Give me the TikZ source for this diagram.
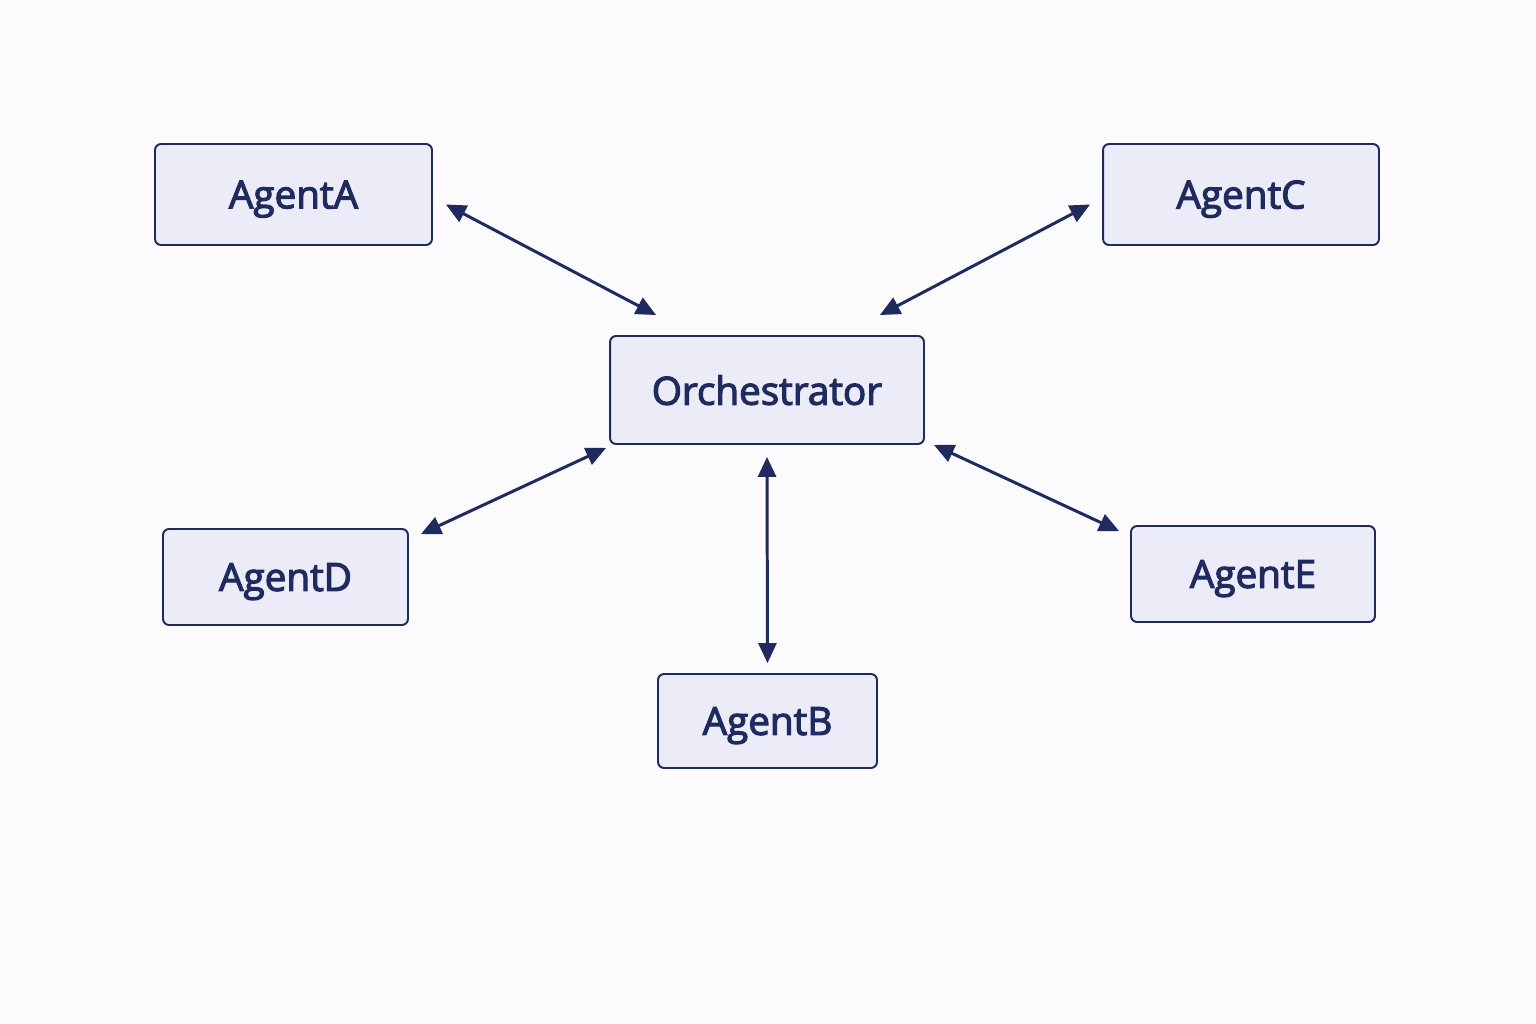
\documentclass[tikz,border=0pt]{standalone}
\usepackage{fontspec}
\setmainfont{Open Sans}[FakeBold=3]
\usetikzlibrary{arrows.meta}
\definecolor{navy}{HTML}{1F2A5E}
\definecolor{boxfill}{HTML}{ECECF8}
\definecolor{bgcol}{HTML}{FBFAFD}

\begin{document}
\begin{tikzpicture}[x=0.02cm,y=-0.02cm,
    agent/.style={draw=navy, line width=1.1pt, fill=boxfill, rounded corners=0.12cm,
      text=navy, font=\fontsize{22}{26}\selectfont, inner sep=0pt, text depth=0pt},
    link/.style={draw=navy, line width=1.7pt, {Triangle[length=0.4cm,width=0.36cm]}-{Triangle[length=0.4cm,width=0.36cm]}}]
      % background
      \fill[bgcol] (0,0) rectangle (1536,1024);
      \useasboundingbox (0,0) rectangle (1536,1024);
      % Orchestrator in the middle
      \node[agent, minimum width=6.28cm, minimum height=2.16cm] (orch) at (767,390) {Orchestrator};
      % Agents round it
      \node[agent, minimum width=5.54cm, minimum height=2.02cm] (agentA) at (293.5,194.5) {AgentA};
      \node[agent, minimum width=5.52cm, minimum height=2.02cm] (agentC) at (1241,194.5) {AgentC};
      \node[agent, minimum width=4.90cm, minimum height=1.92cm] (agentD) at (285.5,577) {AgentD};
      \node[agent, minimum width=4.88cm, minimum height=1.92cm] (agentE) at (1253,574) {AgentE};
      \node[agent, minimum width=4.38cm, minimum height=1.88cm] (agentB) at (767.5,721) {AgentB};
      % Links
      \draw[link] ([shift={(13,10)}]agentA.east) -- ([shift={(47,-20)}]orch.north west);
      \draw[link] ([shift={(-12,10)}]agentC.west) -- ([shift={(-45,-20)}]orch.north east);
      \draw[link] ([shift={(12,6)}]agentD.north east) -- ([shift={(-3,3)}]orch.south west);
      \draw[link] ([shift={(-11,6)}]agentE.north west) -- ([shift={(9,0)}]orch.south east);
      \draw[link] ([shift={(0,-10)}]agentB.north) -- ([shift={(0,12)}]orch.south);
    \end{tikzpicture}
\end{document}
